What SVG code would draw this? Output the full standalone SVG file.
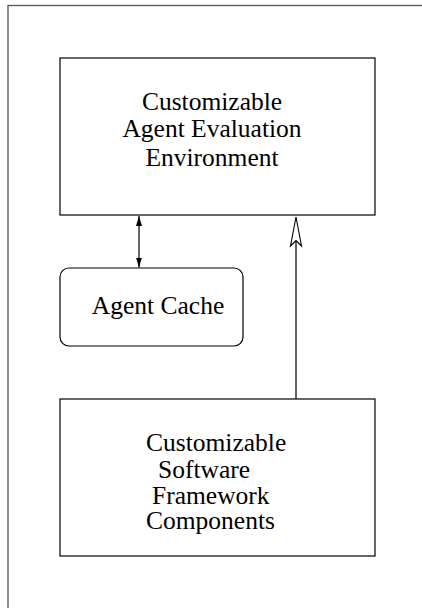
<svg xmlns="http://www.w3.org/2000/svg" width="422" height="608" viewBox="0 0 422 608">
<defs>
<style>
.box{fill:#fff;stroke:#000;stroke-width:1.2}
.frame{fill:none;stroke:#555;stroke-width:1.3}
text{font-family:"Liberation Serif","Times New Roman",serif;font-size:25.5px;fill:#000}
.ln{stroke:#000;stroke-width:1.2;fill:none}
</style>
<marker id="solid" viewBox="0 0 10 6" refX="10" refY="3" markerWidth="10" markerHeight="6" markerUnits="userSpaceOnUse" orient="auto-start-reverse">
<path d="M0,0 L10,3 L0,6 Z" fill="#000"/>
</marker>
</defs>
<rect class="frame" x="8" y="5.5" width="430" height="620"/>
<g id="env">
<rect class="box" x="60" y="58" width="315" height="157"/>
<text x="212" y="110" text-anchor="middle">Customizable</text>
<text x="212" y="137" text-anchor="middle">Agent Evaluation</text>
<text x="212" y="166" text-anchor="middle">Environment</text>
</g>
<g id="cache">
<rect class="box" x="60" y="268" width="183" height="78" rx="9" ry="9"/>
<text x="158" y="314" text-anchor="middle">Agent Cache</text>
</g>
<g id="framework">
<rect class="box" x="60" y="399" width="315" height="157"/>
<text x="146" y="451">Customizable</text>
<text x="158" y="478">Software</text>
<text x="152" y="504">Framework</text>
<text x="146" y="529">Components</text>
</g>
<g id="connectors">
<line class="ln" x1="139" y1="216" x2="139" y2="267.5" marker-start="url(#solid)" marker-end="url(#solid)"/>
<line class="ln" x1="296" y1="399" x2="296" y2="240"/>
<path d="M296,217 L301.5,246 L296,240.5 L290.5,246 Z" fill="#fff" stroke="#000" stroke-width="1.1" stroke-linejoin="miter"/>
</g>
</svg>
